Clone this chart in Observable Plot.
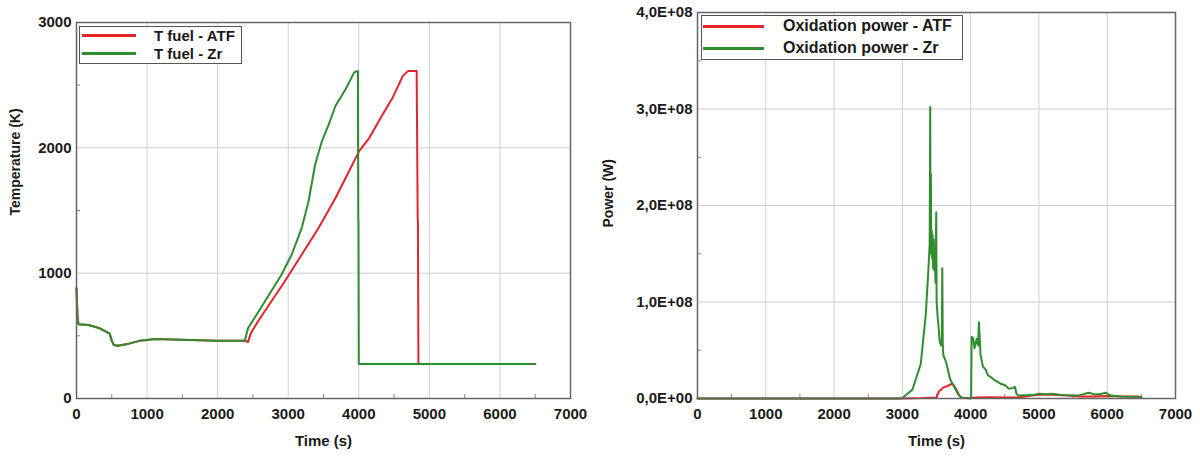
<!DOCTYPE html>
<html><head><meta charset="utf-8">
<script src="https://cdn.jsdelivr.net/npm/d3@7"></script>
<script src="https://cdn.jsdelivr.net/npm/@observablehq/plot@0.6"></script>
<style>
body{margin:0;background:#fff;font-family:"Liberation Sans",Arial,sans-serif;}
#wrap{display:flex;width:1200px;height:459px;overflow:hidden;}
.panel{position:relative;width:600px;height:459px;}
.legend{position:absolute;background:#fff;border:1.5px solid #555;box-sizing:border-box;font-weight:bold;color:#1a1a1a;}
.item{position:absolute;left:0;height:0;}
.sw{position:absolute;height:2.5px;top:-1px;}
.lab{position:absolute;white-space:nowrap;transform:translateY(-50%);line-height:1;}
</style></head><body>
<div id="wrap"><div class="panel" id="left"></div><div class="panel" id="right"></div></div>
<script>
// ---------- axes ----------
const timeTicks = [0, 1000, 2000, 3000, 4000, 5000, 6000, 7000];
const timeTickLabels = ["0", "1000", "2000", "3000", "4000", "5000", "6000", "7000"];
const timeMinor = [500, 1500, 2500, 3500, 4500, 5500, 6500];
const tempTicks = [0, 1000, 2000, 3000];
const tempTickLabels = ["0", "1000", "2000", "3000"];
const tempMinor = [500, 1500, 2500];
const powerTicks = [0, 1e8, 2e8, 3e8, 4e8];
const powerTickLabels = ["0,0E+00", "1,0E+08", "2,0E+08", "3,0E+08", "4,0E+08"];
const powerMinor = [0.5e8, 1.5e8, 2.5e8, 3.5e8];

// ---------- series ----------
const tempSeries = ["T fuel - ATF", "T fuel - Zr"];
const powerSeries = ["Oxidation power - ATF", "Oxidation power - Zr"];
const seriesColors = ["#e4232b", "#2f8c2f"];

// T fuel - ATF (s, K)
const atfTime = [0, 15, 30, 170, 330, 470, 500, 530, 585, 720, 890, 1000, 1110, 1610, 2000, 2400, 2430, 2470, 2570, 2760, 2950, 3190, 3430, 3670, 3910, 4005, 4150, 4340, 4480, 4625, 4700, 4820, 4835, 4838, 4845, 6500];
const atfTemp = [880, 640, 592, 587, 560, 518, 460, 426, 421, 434, 460, 466, 474, 466, 460, 460, 450, 520, 614, 774, 934, 1147, 1360, 1600, 1867, 1974, 2080, 2267, 2400, 2574, 2614, 2614, 1430, 1410, 275, 275];
// T fuel - Zr (s, K)
const zrTime = [0, 15, 30, 170, 330, 470, 500, 530, 585, 720, 890, 1000, 1110, 1610, 2000, 2385, 2430, 2520, 2713, 2904, 3048, 3191, 3288, 3382, 3478, 3575, 3669, 3813, 3933, 3966, 3988, 3992, 3995, 4000, 6500];
const zrTemp = [880, 640, 592, 587, 560, 518, 460, 426, 421, 434, 460, 466, 474, 466, 460, 460, 560, 640, 814, 987, 1147, 1360, 1574, 1867, 2054, 2187, 2334, 2467, 2600, 2612, 2612, 1430, 1410, 275, 275];

// Oxidation power - ATF (s, W)
const pAtfTime = [0, 3000, 3300, 3500, 3516, 3540, 3565, 3590, 3620, 3664, 3712, 3750, 3786, 3835, 3870, 4000, 4100, 4300, 4500, 4700, 4900, 5000, 5200, 5400, 5600, 5800, 6000, 6200, 6466, 6500];
const pAtfPower = [0, 0, 0.004e8, 0.01e8, 0.04e8, 0.08e8, 0.09e8, 0.11e8, 0.12e8, 0.13e8, 0.15e8, 0.14e8, 0.1e8, 0.03e8, 0.004e8, 0.005e8, 0.01e8, 0.012e8, 0.01e8, 0.01e8, 0.03e8, 0.04e8, 0.04e8, 0.03e8, 0.02e8, 0.02e8, 0.025e8, 0.02e8, 0.02e8, 0.01e8];
// Oxidation power - Zr (s, W)
const pZrTime = [0, 2950, 3000, 3147, 3270, 3344, 3383, 3400, 3408, 3412, 3418, 3423, 3430, 3436, 3442, 3450, 3458, 3466, 3475, 3485, 3496, 3502, 3516, 3530, 3545, 3565, 3578, 3585, 3592, 3600, 3639, 3700, 3761, 3820, 3860, 4000, 4007, 4015, 4040, 4056, 4091, 4110, 4121, 4135, 4145, 4180, 4220, 4254, 4300, 4350, 4401, 4450, 4499, 4560, 4622, 4650, 4671, 4696, 4900, 5000, 5100, 5200, 5300, 5400, 5500, 5600, 5729, 5800, 5900, 5974, 6050, 6200, 6466, 6500];
const pZrPower = [0, 0, 0.005e8, 0.09e8, 0.36e8, 0.88e8, 1.36e8, 1.6e8, 3.02e8, 1.7e8, 2.33e8, 1.5e8, 1.74e8, 1.45e8, 1.7e8, 1.35e8, 1.65e8, 1.33e8, 1.55e8, 1.2e8, 1.93e8, 1.0e8, 0.85e8, 0.75e8, 0.6e8, 0.55e8, 0.6e8, 1.35e8, 0.55e8, 0.45e8, 0.38e8, 0.2e8, 0.12e8, 0.04e8, 0.01e8, 0, 0.02e8, 0.64e8, 0.62e8, 0.52e8, 0.62e8, 0.55e8, 0.79e8, 0.6e8, 0.45e8, 0.33e8, 0.3e8, 0.24e8, 0.22e8, 0.19e8, 0.17e8, 0.15e8, 0.14e8, 0.1e8, 0.11e8, 0.12e8, 0.05e8, 0.03e8, 0.035e8, 0.05e8, 0.045e8, 0.05e8, 0.04e8, 0.035e8, 0.03e8, 0.035e8, 0.06e8, 0.045e8, 0.045e8, 0.06e8, 0.03e8, 0.02e8, 0.015e8, 0.01e8];

const rows = (ts, vs) => ts.map((t, i) => ({t, v: vs[i]}));
const fmt = (ticks, labels) => d => labels[ticks.indexOf(d)];
const font = "'Liberation Sans', Arial, sans-serif";

function chart({yTicks, yLabels, yMinor, yDomain, yTitle, series, mL, mR, mT, mB, yTitleDx, yTitleDy}) {
  const W = 600, H = 459;
  const pw = W - mL - mR, ph = H - mT - mB;
  return Plot.plot({
    width: W, height: H,
    marginLeft: mL, marginRight: mR, marginTop: mT, marginBottom: mB,
    style: {fontFamily: font, fontSize: "15px", fontWeight: "bold", color: "#1a1a1a", background: "#fff", overflow: "visible"},
    x: {domain: [0, 7000]},
    y: {domain: yDomain},
    marks: [
      Plot.gridX(timeTicks, {stroke: "#cfcfcf", strokeOpacity: 1}),
      Plot.gridY(yTicks, {stroke: "#cfcfcf", strokeOpacity: 1}),
      Plot.tickX(timeMinor, {x: d => d, stroke: "#888", insetTop: ph - 4}),
      Plot.tickY(yMinor, {y: d => d, stroke: "#888", insetRight: pw - 4}),
      Plot.axisX(timeTicks, {tickSize: 0, tickPadding: 10, tickFormat: fmt(timeTicks, timeTickLabels), label: null}),
      Plot.axisY(yTicks, {tickSize: 0, tickPadding: 5, tickFormat: fmt(yTicks, yLabels), label: null}),
      ...series.map(s => Plot.line(s.data, {x: "t", y: "v", stroke: s.color, strokeWidth: 2})),
      Plot.frame({stroke: "#666", strokeWidth: 1.5}),
      Plot.text(["Time (s)"], {frameAnchor: "bottom", dy: 47, fontSize: 15, fontWeight: "bold", fill: "#1a1a1a"}),
      Plot.text([yTitle], {frameAnchor: "left", dx: yTitleDx, dy: yTitleDy, rotate: -90, fontSize: 14, fontWeight: "bold", fill: "#1a1a1a"})
    ]
  });
}

document.getElementById("left").append(chart({
  yTicks: tempTicks, yLabels: tempTickLabels, yMinor: tempMinor, yDomain: [0, 3000],
  yTitle: "Temperature (K)", mL: 76, mR: 30, mT: 22, mB: 61, yTitleDx: -61, yTitleDy: 5,
  series: [
    {data: rows(atfTime, atfTemp), color: seriesColors[0]},
    {data: rows(zrTime, zrTemp), color: seriesColors[1]}
  ]
}));
document.getElementById("right").append(chart({
  yTicks: powerTicks, yLabels: powerTickLabels, yMinor: powerMinor, yDomain: [0, 4e8],
  yTitle: "Power (W)", mL: 97, mR: 25, mT: 12, mB: 61, yTitleDx: -89, yTitleDy: 22,
  series: [
    {data: rows(pAtfTime, pAtfPower), color: seriesColors[0]},
    {data: rows(pZrTime, pZrPower), color: seriesColors[1]}
  ]
}));

// ---------- legends ----------
function legend(parent, names, box, lineX, textX, rowsY, fs) {
  const lg = document.createElement("div");
  lg.className = "legend";
  Object.assign(lg.style, {left: box[0] + "px", top: box[1] + "px", width: box[2] + "px", height: box[3] + "px", fontSize: fs + "px"});
  names.forEach((n, i) => {
    const it = document.createElement("div");
    it.className = "item";
    it.style.top = rowsY[i] + "px";
    const sw = document.createElement("div");
    sw.className = "sw";
    Object.assign(sw.style, {left: lineX[0] + "px", width: lineX[1] + "px", background: seriesColors[i]});
    const lb = document.createElement("div");
    lb.className = "lab";
    lb.style.left = textX + "px";
    lb.textContent = n;
    it.append(sw, lb);
    lg.append(it);
  });
  parent.append(lg);
}
legend(document.getElementById("left"), tempSeries, [79, 26, 163, 38], [2, 54], 74, [8, 26], 15);
legend(document.getElementById("right"), powerSeries, [101, 15, 262, 45], [1, 61], 81, [10, 32], 16);
</script>
</body></html>
